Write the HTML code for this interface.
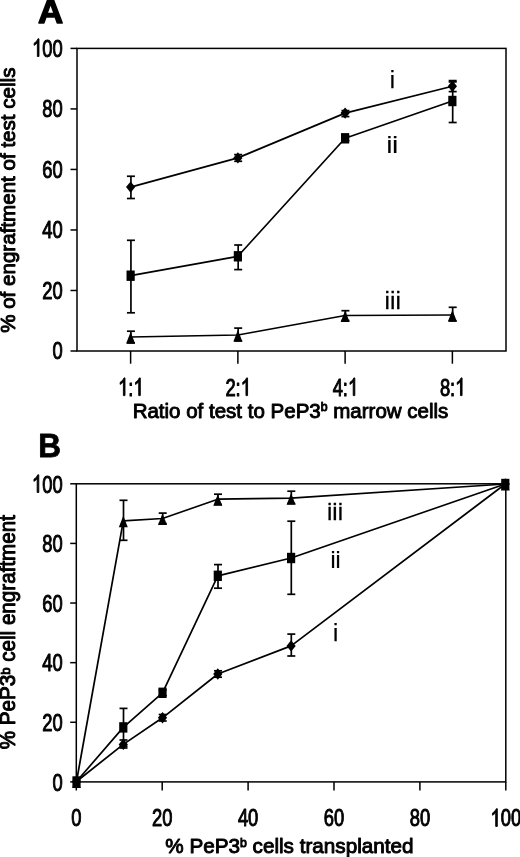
<!DOCTYPE html>
<html><head><meta charset="utf-8"><title>Figure</title>
<style>
html,body{margin:0;padding:0;background:#fff;}
body{width:520px;height:857px;overflow:hidden;}
svg{display:block;font-family:"Liberation Sans", sans-serif;fill:#000;will-change:transform;}
</style></head><body>
<svg width="520" height="857" viewBox="0 0 520 857">
<defs><filter id="soft" x="0" y="0" width="520" height="857" filterUnits="userSpaceOnUse" color-interpolation-filters="sRGB"><feGaussianBlur stdDeviation="0.4"/></filter></defs>
<rect width="520" height="857" fill="#fff"/>
<g filter="url(#soft)">
<rect x="77.0" y="48.4" width="429.0" height="302.6" fill="none" stroke="#000" stroke-width="1.5"/>
<line x1="70.50" y1="351.00" x2="77.00" y2="351.00" stroke="#000" stroke-width="1.5" stroke-linecap="butt"/>
<text transform="translate(52.58,359.10) scale(0.747,1)" font-size="24.6" stroke="#000" stroke-width="0.9" stroke-linejoin="round" vector-effect="non-scaling-stroke">0</text>
<line x1="70.50" y1="290.48" x2="77.00" y2="290.48" stroke="#000" stroke-width="1.5" stroke-linecap="butt"/>
<text transform="translate(42.36,298.58) scale(0.747,1)" font-size="24.6" stroke="#000" stroke-width="0.9" stroke-linejoin="round" vector-effect="non-scaling-stroke">2</text>
<text transform="translate(52.58,298.58) scale(0.747,1)" font-size="24.6" stroke="#000" stroke-width="0.9" stroke-linejoin="round" vector-effect="non-scaling-stroke">0</text>
<line x1="70.50" y1="229.96" x2="77.00" y2="229.96" stroke="#000" stroke-width="1.5" stroke-linecap="butt"/>
<text transform="translate(42.36,238.06) scale(0.747,1)" font-size="24.6" stroke="#000" stroke-width="0.9" stroke-linejoin="round" vector-effect="non-scaling-stroke">4</text>
<text transform="translate(52.58,238.06) scale(0.747,1)" font-size="24.6" stroke="#000" stroke-width="0.9" stroke-linejoin="round" vector-effect="non-scaling-stroke">0</text>
<line x1="70.50" y1="169.44" x2="77.00" y2="169.44" stroke="#000" stroke-width="1.5" stroke-linecap="butt"/>
<text transform="translate(42.36,177.54) scale(0.747,1)" font-size="24.6" stroke="#000" stroke-width="0.9" stroke-linejoin="round" vector-effect="non-scaling-stroke">6</text>
<text transform="translate(52.58,177.54) scale(0.747,1)" font-size="24.6" stroke="#000" stroke-width="0.9" stroke-linejoin="round" vector-effect="non-scaling-stroke">0</text>
<line x1="70.50" y1="108.92" x2="77.00" y2="108.92" stroke="#000" stroke-width="1.5" stroke-linecap="butt"/>
<text transform="translate(42.36,117.02) scale(0.747,1)" font-size="24.6" stroke="#000" stroke-width="0.9" stroke-linejoin="round" vector-effect="non-scaling-stroke">8</text>
<text transform="translate(52.58,117.02) scale(0.747,1)" font-size="24.6" stroke="#000" stroke-width="0.9" stroke-linejoin="round" vector-effect="non-scaling-stroke">0</text>
<line x1="70.50" y1="48.40" x2="77.00" y2="48.40" stroke="#000" stroke-width="1.5" stroke-linecap="butt"/>
<path transform="translate(32.14,56.50) scale(0.00897,-0.01201)" d="M763 0H583V1147Q518 1085 412.5 1023T223 930V1104Q374 1175 487 1276T647 1472H763Z" fill="#000" stroke="#000" stroke-width="0.9" stroke-linejoin="round" vector-effect="non-scaling-stroke"/>
<text transform="translate(42.36,56.50) scale(0.747,1)" font-size="24.6" stroke="#000" stroke-width="0.9" stroke-linejoin="round" vector-effect="non-scaling-stroke">0</text>
<text transform="translate(52.58,56.50) scale(0.747,1)" font-size="24.6" stroke="#000" stroke-width="0.9" stroke-linejoin="round" vector-effect="non-scaling-stroke">0</text>
<line x1="130.62" y1="351.00" x2="130.62" y2="363.70" stroke="#000" stroke-width="1.5" stroke-linecap="butt"/>
<path transform="translate(118.15,395.60) scale(0.00897,-0.01201)" d="M763 0H583V1147Q518 1085 412.5 1023T223 930V1104Q374 1175 487 1276T647 1472H763Z" fill="#000" stroke="#000" stroke-width="0.9" stroke-linejoin="round" vector-effect="non-scaling-stroke"/>
<text transform="translate(128.37,395.60) scale(0.747,1)" font-size="24.6" stroke="#000" stroke-width="0.9" stroke-linejoin="round" vector-effect="non-scaling-stroke">:</text>
<path transform="translate(133.48,395.60) scale(0.00897,-0.01201)" d="M763 0H583V1147Q518 1085 412.5 1023T223 930V1104Q374 1175 487 1276T647 1472H763Z" fill="#000" stroke="#000" stroke-width="0.9" stroke-linejoin="round" vector-effect="non-scaling-stroke"/>
<line x1="237.88" y1="351.00" x2="237.88" y2="363.70" stroke="#000" stroke-width="1.5" stroke-linecap="butt"/>
<text transform="translate(225.40,395.60) scale(0.747,1)" font-size="24.6" stroke="#000" stroke-width="0.9" stroke-linejoin="round" vector-effect="non-scaling-stroke">2</text>
<text transform="translate(235.62,395.60) scale(0.747,1)" font-size="24.6" stroke="#000" stroke-width="0.9" stroke-linejoin="round" vector-effect="non-scaling-stroke">:</text>
<path transform="translate(240.73,395.60) scale(0.00897,-0.01201)" d="M763 0H583V1147Q518 1085 412.5 1023T223 930V1104Q374 1175 487 1276T647 1472H763Z" fill="#000" stroke="#000" stroke-width="0.9" stroke-linejoin="round" vector-effect="non-scaling-stroke"/>
<line x1="345.12" y1="351.00" x2="345.12" y2="363.70" stroke="#000" stroke-width="1.5" stroke-linecap="butt"/>
<text transform="translate(332.65,395.60) scale(0.747,1)" font-size="24.6" stroke="#000" stroke-width="0.9" stroke-linejoin="round" vector-effect="non-scaling-stroke">4</text>
<text transform="translate(342.87,395.60) scale(0.747,1)" font-size="24.6" stroke="#000" stroke-width="0.9" stroke-linejoin="round" vector-effect="non-scaling-stroke">:</text>
<path transform="translate(347.98,395.60) scale(0.00897,-0.01201)" d="M763 0H583V1147Q518 1085 412.5 1023T223 930V1104Q374 1175 487 1276T647 1472H763Z" fill="#000" stroke="#000" stroke-width="0.9" stroke-linejoin="round" vector-effect="non-scaling-stroke"/>
<line x1="452.38" y1="351.00" x2="452.38" y2="363.70" stroke="#000" stroke-width="1.5" stroke-linecap="butt"/>
<text transform="translate(439.90,395.60) scale(0.747,1)" font-size="24.6" stroke="#000" stroke-width="0.9" stroke-linejoin="round" vector-effect="non-scaling-stroke">8</text>
<text transform="translate(450.12,395.60) scale(0.747,1)" font-size="24.6" stroke="#000" stroke-width="0.9" stroke-linejoin="round" vector-effect="non-scaling-stroke">:</text>
<path transform="translate(455.23,395.60) scale(0.00897,-0.01201)" d="M763 0H583V1147Q518 1085 412.5 1023T223 930V1104Q374 1175 487 1276T647 1472H763Z" fill="#000" stroke="#000" stroke-width="0.9" stroke-linejoin="round" vector-effect="non-scaling-stroke"/>
<text transform="translate(290.50,417.70) scale(1.026,1)" font-size="20" font-weight="normal" text-anchor="middle" stroke="#000" stroke-width="0.9" stroke-linejoin="round" >Ratio of test to PeP3<tspan font-size="12" dy="-6.3">b</tspan><tspan dy="6.3"> marrow cells</tspan></text>
<text transform="translate(14.80,200.20) rotate(-90) scale(0.98,1)" font-size="21" font-weight="normal" text-anchor="middle" stroke="#000" stroke-width="1.0" stroke-linejoin="round" >% of engraftment of test cells</text>
<text transform="translate(50.55,22.90) scale(1.04,1)" font-size="33.5" font-weight="bold" text-anchor="middle" stroke="#000" stroke-width="1.4" stroke-linejoin="round" >A</text>
<polyline points="130.62,337.00 237.88,335.00 345.12,315.50 452.38,315.00" fill="none" stroke="#000" stroke-width="1.7" stroke-linejoin="round"/>
<line x1="130.93" y1="331.20" x2="130.93" y2="343.00" stroke="#000" stroke-width="1.7" stroke-linecap="butt"/>
<line x1="126.93" y1="331.20" x2="134.93" y2="331.20" stroke="#000" stroke-width="1.7" stroke-linecap="butt"/>
<line x1="126.93" y1="343.00" x2="134.93" y2="343.00" stroke="#000" stroke-width="1.7" stroke-linecap="butt"/>
<line x1="238.18" y1="328.10" x2="238.18" y2="341.00" stroke="#000" stroke-width="1.7" stroke-linecap="butt"/>
<line x1="234.18" y1="328.10" x2="242.18" y2="328.10" stroke="#000" stroke-width="1.7" stroke-linecap="butt"/>
<line x1="234.18" y1="341.00" x2="242.18" y2="341.00" stroke="#000" stroke-width="1.7" stroke-linecap="butt"/>
<line x1="345.43" y1="310.70" x2="345.43" y2="320.50" stroke="#000" stroke-width="1.7" stroke-linecap="butt"/>
<line x1="341.43" y1="310.70" x2="349.43" y2="310.70" stroke="#000" stroke-width="1.7" stroke-linecap="butt"/>
<line x1="341.43" y1="320.50" x2="349.43" y2="320.50" stroke="#000" stroke-width="1.7" stroke-linecap="butt"/>
<line x1="452.68" y1="307.30" x2="452.68" y2="321.00" stroke="#000" stroke-width="1.7" stroke-linecap="butt"/>
<line x1="448.68" y1="307.30" x2="456.68" y2="307.30" stroke="#000" stroke-width="1.7" stroke-linecap="butt"/>
<line x1="448.68" y1="321.00" x2="456.68" y2="321.00" stroke="#000" stroke-width="1.7" stroke-linecap="butt"/>
<polygon points="130.62,332.00 135.12,343.50 126.12,343.50" fill="#000"/>
<polygon points="237.88,330.00 242.38,341.50 233.38,341.50" fill="#000"/>
<polygon points="345.12,310.50 349.62,322.00 340.62,322.00" fill="#000"/>
<polygon points="452.38,310.00 456.88,321.50 447.88,321.50" fill="#000"/>
<polyline points="130.62,275.70 237.88,256.30 345.12,138.30 452.38,101.00" fill="none" stroke="#000" stroke-width="1.7" stroke-linejoin="round"/>
<line x1="130.93" y1="240.30" x2="130.93" y2="312.80" stroke="#000" stroke-width="1.7" stroke-linecap="butt"/>
<line x1="126.93" y1="240.30" x2="134.93" y2="240.30" stroke="#000" stroke-width="1.7" stroke-linecap="butt"/>
<line x1="126.93" y1="312.80" x2="134.93" y2="312.80" stroke="#000" stroke-width="1.7" stroke-linecap="butt"/>
<line x1="238.18" y1="245.00" x2="238.18" y2="269.60" stroke="#000" stroke-width="1.7" stroke-linecap="butt"/>
<line x1="234.18" y1="245.00" x2="242.18" y2="245.00" stroke="#000" stroke-width="1.7" stroke-linecap="butt"/>
<line x1="234.18" y1="269.60" x2="242.18" y2="269.60" stroke="#000" stroke-width="1.7" stroke-linecap="butt"/>
<line x1="345.43" y1="136.00" x2="345.43" y2="140.60" stroke="#000" stroke-width="1.7" stroke-linecap="butt"/>
<line x1="341.43" y1="136.00" x2="349.43" y2="136.00" stroke="#000" stroke-width="1.7" stroke-linecap="butt"/>
<line x1="341.43" y1="140.60" x2="349.43" y2="140.60" stroke="#000" stroke-width="1.7" stroke-linecap="butt"/>
<line x1="452.68" y1="80.60" x2="452.68" y2="122.50" stroke="#000" stroke-width="1.7" stroke-linecap="butt"/>
<line x1="448.68" y1="80.60" x2="456.68" y2="80.60" stroke="#000" stroke-width="1.7" stroke-linecap="butt"/>
<line x1="448.68" y1="122.50" x2="456.68" y2="122.50" stroke="#000" stroke-width="1.7" stroke-linecap="butt"/>
<rect x="126.53" y="270.50" width="8.20" height="10.40" fill="#000"/>
<rect x="233.78" y="251.10" width="8.20" height="10.40" fill="#000"/>
<rect x="341.02" y="133.10" width="8.20" height="10.40" fill="#000"/>
<rect x="448.27" y="95.80" width="8.20" height="10.40" fill="#000"/>
<polyline points="130.62,187.10 237.88,157.90 345.12,113.10 452.38,86.30" fill="none" stroke="#000" stroke-width="1.7" stroke-linejoin="round"/>
<line x1="130.93" y1="176.25" x2="130.93" y2="198.50" stroke="#000" stroke-width="1.7" stroke-linecap="butt"/>
<line x1="126.93" y1="176.25" x2="134.93" y2="176.25" stroke="#000" stroke-width="1.7" stroke-linecap="butt"/>
<line x1="126.93" y1="198.50" x2="134.93" y2="198.50" stroke="#000" stroke-width="1.7" stroke-linecap="butt"/>
<line x1="238.18" y1="154.60" x2="238.18" y2="161.30" stroke="#000" stroke-width="1.7" stroke-linecap="butt"/>
<line x1="234.18" y1="154.60" x2="242.18" y2="154.60" stroke="#000" stroke-width="1.7" stroke-linecap="butt"/>
<line x1="234.18" y1="161.30" x2="242.18" y2="161.30" stroke="#000" stroke-width="1.7" stroke-linecap="butt"/>
<line x1="345.43" y1="110.60" x2="345.43" y2="116.60" stroke="#000" stroke-width="1.7" stroke-linecap="butt"/>
<line x1="341.43" y1="110.60" x2="349.43" y2="110.60" stroke="#000" stroke-width="1.7" stroke-linecap="butt"/>
<line x1="341.43" y1="116.60" x2="349.43" y2="116.60" stroke="#000" stroke-width="1.7" stroke-linecap="butt"/>
<line x1="452.68" y1="81.90" x2="452.68" y2="91.60" stroke="#000" stroke-width="1.7" stroke-linecap="butt"/>
<line x1="448.68" y1="81.90" x2="456.68" y2="81.90" stroke="#000" stroke-width="1.7" stroke-linecap="butt"/>
<line x1="448.68" y1="91.60" x2="456.68" y2="91.60" stroke="#000" stroke-width="1.7" stroke-linecap="butt"/>
<polygon points="130.62,181.40 135.22,187.10 130.62,192.80 126.03,187.10" fill="#000"/>
<polygon points="237.88,152.20 242.47,157.90 237.88,163.60 233.28,157.90" fill="#000"/>
<polygon points="345.12,107.40 349.73,113.10 345.12,118.80 340.52,113.10" fill="#000"/>
<polygon points="452.38,80.60 456.98,86.30 452.38,92.00 447.77,86.30" fill="#000"/>
<text transform="translate(392.25,88.10) scale(1.0,1)" font-size="23.5" font-weight="normal" text-anchor="middle" stroke="#000" stroke-width="0.25" stroke-linejoin="round" >i</text>
<text transform="translate(392.30,153.10) scale(1.1,1)" font-size="23.5" font-weight="normal" text-anchor="middle" stroke="#000" stroke-width="0.25" stroke-linejoin="round" >ii</text>
<text transform="translate(392.70,309.10) scale(1.04,1)" font-size="23.5" font-weight="normal" text-anchor="middle" stroke="#000" stroke-width="0.25" stroke-linejoin="round" >iii</text>
<rect x="76.3" y="483.8" width="429.5" height="298.09999999999997" fill="none" stroke="#000" stroke-width="1.5"/>
<line x1="70.20" y1="781.90" x2="76.30" y2="781.90" stroke="#000" stroke-width="1.5" stroke-linecap="butt"/>
<text transform="translate(52.38,790.60) scale(0.747,1)" font-size="24.6" stroke="#000" stroke-width="0.9" stroke-linejoin="round" vector-effect="non-scaling-stroke">0</text>
<line x1="76.30" y1="781.90" x2="76.30" y2="790.50" stroke="#000" stroke-width="1.5" stroke-linecap="butt"/>
<text transform="translate(71.19,826.40) scale(0.747,1)" font-size="24.6" stroke="#000" stroke-width="0.9" stroke-linejoin="round" vector-effect="non-scaling-stroke">0</text>
<line x1="70.20" y1="722.28" x2="76.30" y2="722.28" stroke="#000" stroke-width="1.5" stroke-linecap="butt"/>
<text transform="translate(42.16,730.98) scale(0.747,1)" font-size="24.6" stroke="#000" stroke-width="0.9" stroke-linejoin="round" vector-effect="non-scaling-stroke">2</text>
<text transform="translate(52.38,730.98) scale(0.747,1)" font-size="24.6" stroke="#000" stroke-width="0.9" stroke-linejoin="round" vector-effect="non-scaling-stroke">0</text>
<line x1="162.20" y1="781.90" x2="162.20" y2="790.50" stroke="#000" stroke-width="1.5" stroke-linecap="butt"/>
<text transform="translate(151.98,826.40) scale(0.747,1)" font-size="24.6" stroke="#000" stroke-width="0.9" stroke-linejoin="round" vector-effect="non-scaling-stroke">2</text>
<text transform="translate(162.20,826.40) scale(0.747,1)" font-size="24.6" stroke="#000" stroke-width="0.9" stroke-linejoin="round" vector-effect="non-scaling-stroke">0</text>
<line x1="70.20" y1="662.66" x2="76.30" y2="662.66" stroke="#000" stroke-width="1.5" stroke-linecap="butt"/>
<text transform="translate(42.16,671.36) scale(0.747,1)" font-size="24.6" stroke="#000" stroke-width="0.9" stroke-linejoin="round" vector-effect="non-scaling-stroke">4</text>
<text transform="translate(52.38,671.36) scale(0.747,1)" font-size="24.6" stroke="#000" stroke-width="0.9" stroke-linejoin="round" vector-effect="non-scaling-stroke">0</text>
<line x1="248.10" y1="781.90" x2="248.10" y2="790.50" stroke="#000" stroke-width="1.5" stroke-linecap="butt"/>
<text transform="translate(237.88,826.40) scale(0.747,1)" font-size="24.6" stroke="#000" stroke-width="0.9" stroke-linejoin="round" vector-effect="non-scaling-stroke">4</text>
<text transform="translate(248.10,826.40) scale(0.747,1)" font-size="24.6" stroke="#000" stroke-width="0.9" stroke-linejoin="round" vector-effect="non-scaling-stroke">0</text>
<line x1="70.20" y1="603.04" x2="76.30" y2="603.04" stroke="#000" stroke-width="1.5" stroke-linecap="butt"/>
<text transform="translate(42.16,611.74) scale(0.747,1)" font-size="24.6" stroke="#000" stroke-width="0.9" stroke-linejoin="round" vector-effect="non-scaling-stroke">6</text>
<text transform="translate(52.38,611.74) scale(0.747,1)" font-size="24.6" stroke="#000" stroke-width="0.9" stroke-linejoin="round" vector-effect="non-scaling-stroke">0</text>
<line x1="334.00" y1="781.90" x2="334.00" y2="790.50" stroke="#000" stroke-width="1.5" stroke-linecap="butt"/>
<text transform="translate(323.78,826.40) scale(0.747,1)" font-size="24.6" stroke="#000" stroke-width="0.9" stroke-linejoin="round" vector-effect="non-scaling-stroke">6</text>
<text transform="translate(334.00,826.40) scale(0.747,1)" font-size="24.6" stroke="#000" stroke-width="0.9" stroke-linejoin="round" vector-effect="non-scaling-stroke">0</text>
<line x1="70.20" y1="543.42" x2="76.30" y2="543.42" stroke="#000" stroke-width="1.5" stroke-linecap="butt"/>
<text transform="translate(42.16,552.12) scale(0.747,1)" font-size="24.6" stroke="#000" stroke-width="0.9" stroke-linejoin="round" vector-effect="non-scaling-stroke">8</text>
<text transform="translate(52.38,552.12) scale(0.747,1)" font-size="24.6" stroke="#000" stroke-width="0.9" stroke-linejoin="round" vector-effect="non-scaling-stroke">0</text>
<line x1="419.90" y1="781.90" x2="419.90" y2="790.50" stroke="#000" stroke-width="1.5" stroke-linecap="butt"/>
<text transform="translate(409.68,826.40) scale(0.747,1)" font-size="24.6" stroke="#000" stroke-width="0.9" stroke-linejoin="round" vector-effect="non-scaling-stroke">8</text>
<text transform="translate(419.90,826.40) scale(0.747,1)" font-size="24.6" stroke="#000" stroke-width="0.9" stroke-linejoin="round" vector-effect="non-scaling-stroke">0</text>
<line x1="70.20" y1="483.80" x2="76.30" y2="483.80" stroke="#000" stroke-width="1.5" stroke-linecap="butt"/>
<path transform="translate(31.94,492.50) scale(0.00897,-0.01201)" d="M763 0H583V1147Q518 1085 412.5 1023T223 930V1104Q374 1175 487 1276T647 1472H763Z" fill="#000" stroke="#000" stroke-width="0.9" stroke-linejoin="round" vector-effect="non-scaling-stroke"/>
<text transform="translate(42.16,492.50) scale(0.747,1)" font-size="24.6" stroke="#000" stroke-width="0.9" stroke-linejoin="round" vector-effect="non-scaling-stroke">0</text>
<text transform="translate(52.38,492.50) scale(0.747,1)" font-size="24.6" stroke="#000" stroke-width="0.9" stroke-linejoin="round" vector-effect="non-scaling-stroke">0</text>
<line x1="505.80" y1="781.90" x2="505.80" y2="790.50" stroke="#000" stroke-width="1.5" stroke-linecap="butt"/>
<path transform="translate(490.47,826.40) scale(0.00897,-0.01201)" d="M763 0H583V1147Q518 1085 412.5 1023T223 930V1104Q374 1175 487 1276T647 1472H763Z" fill="#000" stroke="#000" stroke-width="0.9" stroke-linejoin="round" vector-effect="non-scaling-stroke"/>
<text transform="translate(500.69,826.40) scale(0.747,1)" font-size="24.6" stroke="#000" stroke-width="0.9" stroke-linejoin="round" vector-effect="non-scaling-stroke">0</text>
<text transform="translate(510.91,826.40) scale(0.747,1)" font-size="24.6" stroke="#000" stroke-width="0.9" stroke-linejoin="round" vector-effect="non-scaling-stroke">0</text>
<text transform="translate(289.40,853.00) scale(0.985,1)" font-size="21" font-weight="normal" text-anchor="middle" stroke="#000" stroke-width="0.95" stroke-linejoin="round" >% PeP3<tspan font-size="12.5" dy="-5.6">b</tspan><tspan dy="5.6"> cells transplanted</tspan></text>
<text transform="translate(14.80,632.15) rotate(-90) scale(0.96,1)" font-size="21.5" font-weight="normal" text-anchor="middle" stroke="#000" stroke-width="1.0" stroke-linejoin="round" >% PeP3<tspan font-size="13.5" dy="-5.2">b</tspan><tspan dy="5.2"> cell engraftment</tspan></text>
<text transform="translate(49.70,456.90) scale(0.97,1)" font-size="32.5" font-weight="bold" text-anchor="middle" stroke="#000" stroke-width="0.8" stroke-linejoin="round" >B</text>
<polyline points="76.50,781.50 123.30,520.80 162.50,518.50 217.80,499.20 291.10,498.20 505.30,484.00" fill="none" stroke="#000" stroke-width="1.7" stroke-linejoin="round"/>
<line x1="123.50" y1="500.30" x2="123.50" y2="540.30" stroke="#000" stroke-width="1.7" stroke-linecap="butt"/>
<line x1="119.50" y1="500.30" x2="127.50" y2="500.30" stroke="#000" stroke-width="1.7" stroke-linecap="butt"/>
<line x1="119.50" y1="540.30" x2="127.50" y2="540.30" stroke="#000" stroke-width="1.7" stroke-linecap="butt"/>
<line x1="162.70" y1="513.10" x2="162.70" y2="523.50" stroke="#000" stroke-width="1.7" stroke-linecap="butt"/>
<line x1="158.70" y1="513.10" x2="166.70" y2="513.10" stroke="#000" stroke-width="1.7" stroke-linecap="butt"/>
<line x1="158.70" y1="523.50" x2="166.70" y2="523.50" stroke="#000" stroke-width="1.7" stroke-linecap="butt"/>
<line x1="218.00" y1="494.20" x2="218.00" y2="504.50" stroke="#000" stroke-width="1.7" stroke-linecap="butt"/>
<line x1="214.00" y1="494.20" x2="222.00" y2="494.20" stroke="#000" stroke-width="1.7" stroke-linecap="butt"/>
<line x1="214.00" y1="504.50" x2="222.00" y2="504.50" stroke="#000" stroke-width="1.7" stroke-linecap="butt"/>
<line x1="291.30" y1="491.20" x2="291.30" y2="503.50" stroke="#000" stroke-width="1.7" stroke-linecap="butt"/>
<line x1="287.30" y1="491.20" x2="295.30" y2="491.20" stroke="#000" stroke-width="1.7" stroke-linecap="butt"/>
<line x1="287.30" y1="503.50" x2="295.30" y2="503.50" stroke="#000" stroke-width="1.7" stroke-linecap="butt"/>
<polygon points="76.50,776.50 81.00,788.00 72.00,788.00" fill="#000"/>
<polygon points="123.30,515.80 127.80,527.30 118.80,527.30" fill="#000"/>
<polygon points="162.50,513.50 167.00,525.00 158.00,525.00" fill="#000"/>
<polygon points="217.80,494.20 222.30,505.70 213.30,505.70" fill="#000"/>
<polygon points="291.10,493.20 295.60,504.70 286.60,504.70" fill="#000"/>
<polygon points="505.30,479.00 509.80,490.50 500.80,490.50" fill="#000"/>
<polyline points="76.50,781.50 123.30,727.40 162.50,692.80 217.80,575.80 291.10,558.00 505.30,484.00" fill="none" stroke="#000" stroke-width="1.7" stroke-linejoin="round"/>
<line x1="123.50" y1="708.40" x2="123.50" y2="746.40" stroke="#000" stroke-width="1.7" stroke-linecap="butt"/>
<line x1="119.50" y1="708.40" x2="127.50" y2="708.40" stroke="#000" stroke-width="1.7" stroke-linecap="butt"/>
<line x1="119.50" y1="746.40" x2="127.50" y2="746.40" stroke="#000" stroke-width="1.7" stroke-linecap="butt"/>
<line x1="162.70" y1="690.00" x2="162.70" y2="695.60" stroke="#000" stroke-width="1.7" stroke-linecap="butt"/>
<line x1="158.70" y1="690.00" x2="166.70" y2="690.00" stroke="#000" stroke-width="1.7" stroke-linecap="butt"/>
<line x1="158.70" y1="695.60" x2="166.70" y2="695.60" stroke="#000" stroke-width="1.7" stroke-linecap="butt"/>
<line x1="218.00" y1="564.60" x2="218.00" y2="588.20" stroke="#000" stroke-width="1.7" stroke-linecap="butt"/>
<line x1="214.00" y1="564.60" x2="222.00" y2="564.60" stroke="#000" stroke-width="1.7" stroke-linecap="butt"/>
<line x1="214.00" y1="588.20" x2="222.00" y2="588.20" stroke="#000" stroke-width="1.7" stroke-linecap="butt"/>
<line x1="291.30" y1="521.20" x2="291.30" y2="594.30" stroke="#000" stroke-width="1.7" stroke-linecap="butt"/>
<line x1="287.30" y1="521.20" x2="295.30" y2="521.20" stroke="#000" stroke-width="1.7" stroke-linecap="butt"/>
<line x1="287.30" y1="594.30" x2="295.30" y2="594.30" stroke="#000" stroke-width="1.7" stroke-linecap="butt"/>
<rect x="72.40" y="776.30" width="8.20" height="10.40" fill="#000"/>
<rect x="119.20" y="722.20" width="8.20" height="10.40" fill="#000"/>
<rect x="158.40" y="687.60" width="8.20" height="10.40" fill="#000"/>
<rect x="213.70" y="570.60" width="8.20" height="10.40" fill="#000"/>
<rect x="287.00" y="552.80" width="8.20" height="10.40" fill="#000"/>
<rect x="501.20" y="478.80" width="8.20" height="10.40" fill="#000"/>
<polyline points="76.50,781.50 123.30,744.40 162.50,717.80 217.80,674.00 291.10,645.90 505.30,484.00" fill="none" stroke="#000" stroke-width="1.7" stroke-linejoin="round"/>
<line x1="123.50" y1="740.00" x2="123.50" y2="748.00" stroke="#000" stroke-width="1.7" stroke-linecap="butt"/>
<line x1="119.50" y1="740.00" x2="127.50" y2="740.00" stroke="#000" stroke-width="1.7" stroke-linecap="butt"/>
<line x1="119.50" y1="748.00" x2="127.50" y2="748.00" stroke="#000" stroke-width="1.7" stroke-linecap="butt"/>
<line x1="162.70" y1="714.50" x2="162.70" y2="721.00" stroke="#000" stroke-width="1.7" stroke-linecap="butt"/>
<line x1="158.70" y1="714.50" x2="166.70" y2="714.50" stroke="#000" stroke-width="1.7" stroke-linecap="butt"/>
<line x1="158.70" y1="721.00" x2="166.70" y2="721.00" stroke="#000" stroke-width="1.7" stroke-linecap="butt"/>
<line x1="218.00" y1="670.80" x2="218.00" y2="677.20" stroke="#000" stroke-width="1.7" stroke-linecap="butt"/>
<line x1="214.00" y1="670.80" x2="222.00" y2="670.80" stroke="#000" stroke-width="1.7" stroke-linecap="butt"/>
<line x1="214.00" y1="677.20" x2="222.00" y2="677.20" stroke="#000" stroke-width="1.7" stroke-linecap="butt"/>
<line x1="291.30" y1="634.10" x2="291.30" y2="656.00" stroke="#000" stroke-width="1.7" stroke-linecap="butt"/>
<line x1="287.30" y1="634.10" x2="295.30" y2="634.10" stroke="#000" stroke-width="1.7" stroke-linecap="butt"/>
<line x1="287.30" y1="656.00" x2="295.30" y2="656.00" stroke="#000" stroke-width="1.7" stroke-linecap="butt"/>
<polygon points="76.50,775.80 81.10,781.50 76.50,787.20 71.90,781.50" fill="#000"/>
<polygon points="123.30,738.70 127.90,744.40 123.30,750.10 118.70,744.40" fill="#000"/>
<polygon points="162.50,712.10 167.10,717.80 162.50,723.50 157.90,717.80" fill="#000"/>
<polygon points="217.80,668.30 222.40,674.00 217.80,679.70 213.20,674.00" fill="#000"/>
<polygon points="291.10,640.20 295.70,645.90 291.10,651.60 286.50,645.90" fill="#000"/>
<polygon points="505.30,478.30 509.90,484.00 505.30,489.70 500.70,484.00" fill="#000"/>
<text transform="translate(335.00,519.75) scale(1.02,1)" font-size="23.5" font-weight="normal" text-anchor="middle" stroke="#000" stroke-width="0.25" stroke-linejoin="round" >iii</text>
<text transform="translate(335.60,568.40) scale(0.97,1)" font-size="23.5" font-weight="normal" text-anchor="middle" stroke="#000" stroke-width="0.25" stroke-linejoin="round" >ii</text>
<text transform="translate(335.60,641.00) scale(1.0,1)" font-size="23.5" font-weight="normal" text-anchor="middle" stroke="#000" stroke-width="0.25" stroke-linejoin="round" >i</text>
</g>
</svg>
</body></html>
